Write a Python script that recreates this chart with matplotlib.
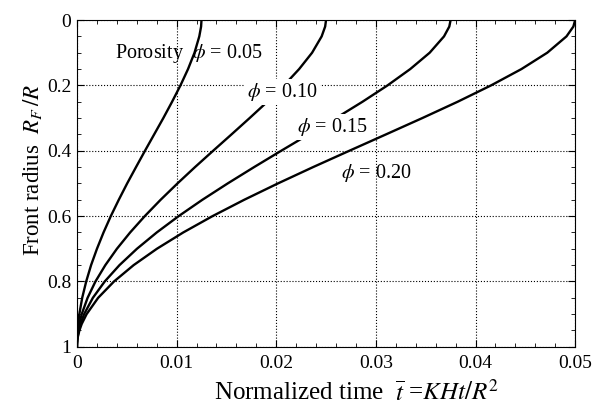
import matplotlib.pyplot as plt
from matplotlib.ticker import MultipleLocator

plt.rcParams['font.family'] = ['Liberation Serif', 'DejaVu Serif']
plt.rcParams['mathtext.fontset'] = 'stix'

# front radius values (common to all curves)
radius = [1.0, 0.99, 0.98, 0.97, 0.95, 0.93, 0.9, 0.85, 0.8, 0.75, 0.7, 0.65, 0.6,
          0.55, 0.5, 0.45, 0.4, 0.35, 0.3, 0.25, 0.2, 0.15, 0.1, 0.05, 0.02, 0.0]

# normalized time at which each curve reaches those radii
t_005 = [0, 0.0000025, 0.00001, 0.000022, 0.000061, 0.00012, 0.00024, 0.00053,
         0.00093, 0.00142, 0.00201, 0.00267, 0.0034, 0.0042, 0.00504, 0.00593,
         0.00683, 0.00775, 0.00867, 0.00955, 0.01039, 0.01115, 0.0118, 0.01228,
         0.01246, 0.0125]
t_010 = [0, 0.000005, 0.00002, 0.000045, 0.000123, 0.00024, 0.00048, 0.00107,
         0.00186, 0.00285, 0.00401, 0.00534, 0.00681, 0.0084, 0.01009, 0.01185,
         0.01367, 0.01551, 0.01733, 0.01911, 0.02078, 0.0223, 0.0236, 0.02456,
         0.02491, 0.025]
t_015 = [0, 0.0000075, 0.00003, 0.000067, 0.000184, 0.00036, 0.00072, 0.0016,
         0.00279, 0.00427, 0.00602, 0.00801, 0.01021, 0.01259, 0.01513, 0.01778,
         0.0205, 0.02326, 0.026, 0.02866, 0.03117, 0.03345, 0.0354, 0.03684,
         0.03737, 0.0375]
t_020 = [0, 0.00001, 0.00004, 0.000089, 0.000246, 0.00048, 0.00097, 0.00213,
         0.00372, 0.00569, 0.00802, 0.01067, 0.01361, 0.01679, 0.02017, 0.0237,
         0.02734, 0.03101, 0.03466, 0.03821, 0.04156, 0.04461, 0.0472, 0.04913,
         0.04982, 0.05]

xticks = [0, 0.01, 0.02, 0.03, 0.04, 0.05]
xtick_labels = ['0', '0.01', '0.02', '0.03', '0.04', '0.05']
yticks = [0, 0.2, 0.4, 0.6, 0.8, 1.0]
ytick_labels = ['0', '0.2', '0.4', '0.6', '0.8', '1']

fig = plt.figure(figsize=(6.01, 4.09), dpi=100)
ax = fig.add_axes([0.128, 0.152, 0.829, 0.799])

for t in [t_005, t_010, t_015, t_020]:
    ax.plot(t, radius, color='black', lw=1.7, solid_joinstyle='round')

ax.set_xlim(0, 0.05)
ax.set_ylim(1, 0)
ax.set_xticks(xticks)
ax.set_xticklabels(xtick_labels)
ax.set_yticks(yticks)
ax.set_yticklabels(ytick_labels)
ax.xaxis.set_minor_locator(MultipleLocator(0.002))
ax.yaxis.set_minor_locator(MultipleLocator(0.05))
ax.tick_params(which='both', direction='in', top=True, right=True, labelsize=14)
ax.tick_params(which='major', length=5)
ax.tick_params(axis='x', which='major', pad=6)
ax.tick_params(axis='y', which='major', pad=4)
ax.tick_params(which='minor', length=3)
ax.grid(True, which='major', linestyle=':', color='black', lw=0.8)

ax.set_xlabel(r'Normalized time  $\overline{t}$ =$KHt/R^2$', fontsize=18)
ax.xaxis.set_label_coords(0.562, -0.102)
ax.set_ylabel(r'Front radius  $R_F\,/R$', fontsize=16.5)
ax.yaxis.set_label_coords(-0.066, 0.54)

box = dict(facecolor='white', edgecolor='none', pad=1.5)
ax.text(0.0038, 0.101, r'Porosity  $\phi$ = 0.05', fontsize=14.5, va='center')
ax.text(0.0171, 0.22, r'$\phi$ = 0.10', fontsize=14.5, va='center', bbox=box)
ax.text(0.0221, 0.327, r'$\phi$ = 0.15', fontsize=14.5, va='center', bbox=box)
ax.text(0.0265, 0.468, r'$\phi$ = 0.20', fontsize=14.5, va='center')

fig.savefig('out.png', dpi=100)
